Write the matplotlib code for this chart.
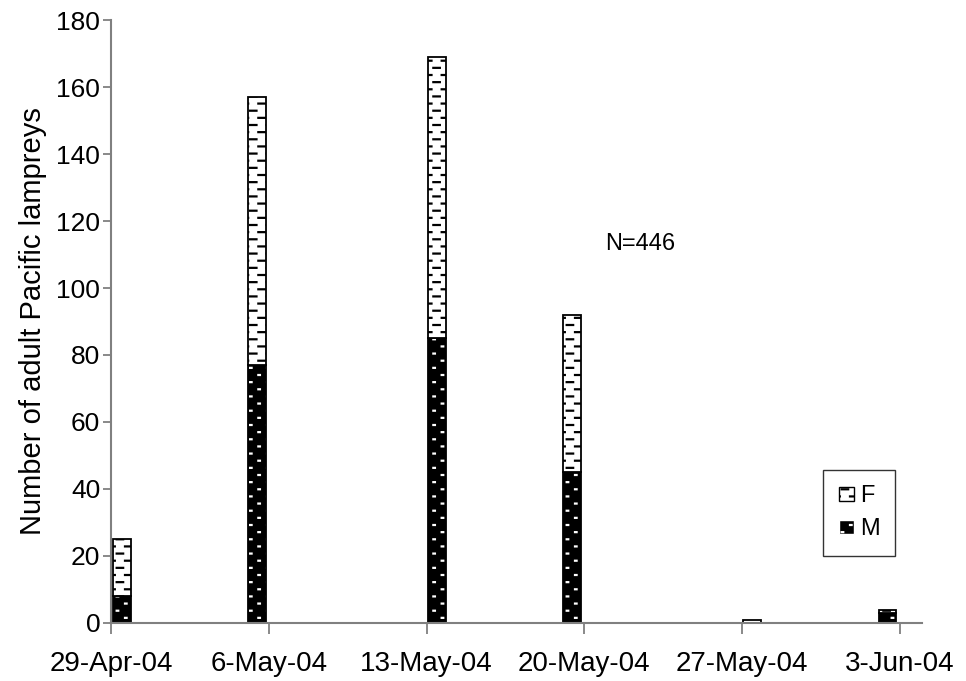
import datetime as dt
import numpy as np
import matplotlib
matplotlib.use("Agg")
import matplotlib.pyplot as plt
import matplotlib.dates as mdates
import matplotlib.hatch as mhatch
from matplotlib.path import Path
from matplotlib.patches import Patch

plt.rcParams['font.family'] = ['Liberation Sans', 'DejaVu Sans']
plt.rcParams['hatch.linewidth'] = 1.6

# data
sample_dates = ["2004-04-29", "2004-05-05", "2004-05-13", "2004-05-19", "2004-05-27", "2004-06-02"]
males = [8, 77, 85, 45, 0, 3]
females = [17, 80, 84, 47, 1, 1]
tick_dates = ["2004-04-29", "2004-05-06", "2004-05-13", "2004-05-20", "2004-05-27", "2004-06-03"]
tick_labels = ["29-Apr-04", "6-May-04", "13-May-04", "20-May-04", "27-May-04", "3-Jun-04"]


# Excel-like staggered patterns: '|' -> short dashes, '.' -> tiny dots
class StaggerHatch(mhatch.HatchPatternBase):
    rows, cols = 14, 6

    def __init__(self, hatch, density):
        self.kind = None
        if '|' in hatch:
            self.kind, self.seg = 'dash', 0.065
        elif '.' in hatch:
            self.kind, self.seg = 'dot', 0.016
        self.num_vertices = 0 if self.kind is None else self.rows * self.cols * 2

    def set_vertices_and_codes(self, vertices, codes):
        i = 0
        for r in range(self.rows):
            y = (r + 0.5) / self.rows
            off = (r % 2) * 0.5 / self.cols
            for c in range(self.cols):
                x0 = c / self.cols + off
                vertices[i] = (x0, y)
                vertices[i + 1] = (x0 + self.seg, y)
                codes[i], codes[i + 1] = Path.MOVETO, Path.LINETO
                i += 2


mhatch._hatch_types = [h for h in mhatch._hatch_types
                       if h not in (mhatch.VerticalHatch, mhatch.SmallFilledCircles)] + [StaggerHatch]

x = mdates.date2num([dt.datetime.fromisoformat(d) for d in sample_dates]) + 0.07
xt = mdates.date2num([dt.datetime.fromisoformat(d) for d in tick_dates])
w = 0.78

fig = plt.figure(figsize=(9.66, 6.81), dpi=100)
ax = fig.add_axes([0.1154, 0.0852, 0.8391, 0.8854])

# M: black with white dots
ax.bar(x, males, w, align='edge', color='black', edgecolor='white', hatch='.', linewidth=0)
ax.bar(x, males, w, align='edge', fill=False, edgecolor='black', linewidth=1.3)
# F: white with dashes
ax.bar(x, females, w, bottom=males, align='edge', color='white', edgecolor='black',
       hatch='|', linewidth=1.3)

ax.set_xlim(xt[0], xt[0] + 36)
ax.set_ylim(0, 180)
ax.set_yticks(range(0, 181, 20))
ax.set_xticks(xt)
ax.set_xticklabels(tick_labels)
ax.tick_params(axis='both', color='gray', width=1.3)
ax.tick_params(axis='y', labelsize=19, length=6, pad=2)
ax.tick_params(axis='x', labelsize=20, length=8, pad=12)

ax.set_ylabel('Number of adult Pacific lampreys', fontsize=21, labelpad=7)

for s in ['top', 'right']:
    ax.spines[s].set_visible(False)
for s in ['left', 'bottom']:
    ax.spines[s].set_color('gray')
    ax.spines[s].set_linewidth(1.5)

ax.text(xt[0] + 23.5, 113, 'N=446', fontsize=17, ha='center', va='center')

handles = [Patch(facecolor='white', edgecolor='black', hatch='|', label='F'),
           Patch(facecolor='black', edgecolor='white', hatch='.', label='M')]
leg = ax.legend(handles=handles, loc='upper left', bbox_to_anchor=(0.878, 0.2537),
                fontsize=17, frameon=True, fancybox=False, edgecolor='black',
                handlelength=0.65, handleheight=0.55, handletextpad=0.25,
                borderpad=0.65, labelspacing=0.47, borderaxespad=0)
leg.get_frame().set_linewidth(1.0)

plt.savefig('out.png', dpi=100)
